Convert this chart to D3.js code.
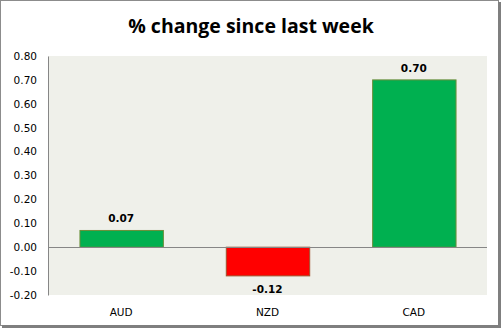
<!DOCTYPE html>
<html><head><meta charset="utf-8">
<script src="https://cdn.jsdelivr.net/npm/d3@7"></script>
<style>
html,body{margin:0;padding:0;background:#fff;}
svg{display:block;}
</style></head>
<body>
<script>
const categories = ["AUD", "NZD", "CAD"];
const values = [0.07, -0.12, 0.70];
const tickValues = [0.80, 0.70, 0.60, 0.50, 0.40, 0.30, 0.20, 0.10, 0.00, -0.10, -0.20];
const chartTitle = "% change since last week";

(function () {
const W = 502, H = 329;
const fmt = d => d3.format(".2f")(d).replace("\u2212", "-");
const svg = d3.select("body").append("svg").attr("width", W).attr("height", H);

// outer frame
svg.append("rect").attr("x", 0.5).attr("y", 0.5).attr("width", W - 4).attr("height", H - 4)
  .attr("fill", "#fff").attr("stroke", "#8c8c8c").attr("stroke-width", 1);
svg.append("line").attr("x1", W - 2.5).attr("x2", W - 2.5).attr("y1", 2).attr("y2", H - 2)
  .attr("stroke", "#7f7f7f").attr("stroke-width", 3);
svg.append("line").attr("x1", 2).attr("x2", W - 1).attr("y1", H - 2.5).attr("y2", H - 2.5)
  .attr("stroke", "#7f7f7f").attr("stroke-width", 3);

const pl = 48, pr = 487, pt = 56, pb = 295;
const x = d3.scaleBand().domain(categories).range([pl, pr]).paddingInner(0.43).paddingOuter(0.215);
const y = d3.scaleLinear().domain([-0.2, 0.8]).range([pb, pt]);

svg.append("rect").attr("x", pl).attr("y", pt).attr("width", pr - pl).attr("height", pb - pt)
  .attr("fill", "#eff0ea");

// title
svg.append("text").attr("x", 251).attr("y", 33).attr("text-anchor", "middle")
  .attr("font-family", "Open Sans, sans-serif").attr("font-weight", "bold").attr("font-size", 19.5)
  .attr("fill", "#000").text(chartTitle);

// y axis
const yAxis = d3.axisLeft(y).tickValues(tickValues).tickFormat(fmt).tickSize(0).tickPadding(11);
const ga = svg.append("g").attr("transform", `translate(${pl},0)`).call(yAxis);
ga.select(".domain").attr("stroke", "#868686");
ga.selectAll("text").attr("font-family", "DejaVu Sans, sans-serif").attr("font-size", 10.5).attr("fill", "#000");

// bars
svg.selectAll("rect.bar").data(values).enter().append("rect").attr("class", "bar")
  .attr("x", (d, i) => x(categories[i]) + 0.5)
  .attr("width", x.bandwidth())
  .attr("y", d => y(Math.max(0, d)))
  .attr("height", d => Math.abs(y(d) - y(0)))
  .attr("fill", d => d >= 0 ? "#00b050" : "#ff0000")
  .attr("stroke", d => d >= 0 ? "#6b8e3a" : "#a0522d")
  .attr("stroke-width", 1);

// zero line
svg.append("line").attr("x1", pl).attr("x2", pr).attr("y1", Math.round(y(0)) + 0.5).attr("y2", Math.round(y(0)) + 0.5)
  .attr("stroke", "#868686").attr("stroke-width", 1);

// value labels
svg.selectAll("text.val").data(values).enter().append("text").attr("class", "val")
  .attr("x", (d, i) => x(categories[i]) + x.bandwidth() / 2)
  .attr("y", d => d >= 0 ? y(d) - 8 : y(d) + 17)
  .attr("text-anchor", "middle")
  .attr("font-family", "DejaVu Sans, sans-serif").attr("font-weight", "bold").attr("font-size", 10.5)
  .text(fmt);

// category labels
svg.selectAll("text.cat").data(categories).enter().append("text").attr("class", "cat")
  .attr("x", d => x(d) + x.bandwidth() / 2)
  .attr("y", 316)
  .attr("text-anchor", "middle")
  .attr("font-family", "DejaVu Sans, sans-serif").attr("font-size", 10.5)
  .text(d => d);
})();
</script>
</body></html>
